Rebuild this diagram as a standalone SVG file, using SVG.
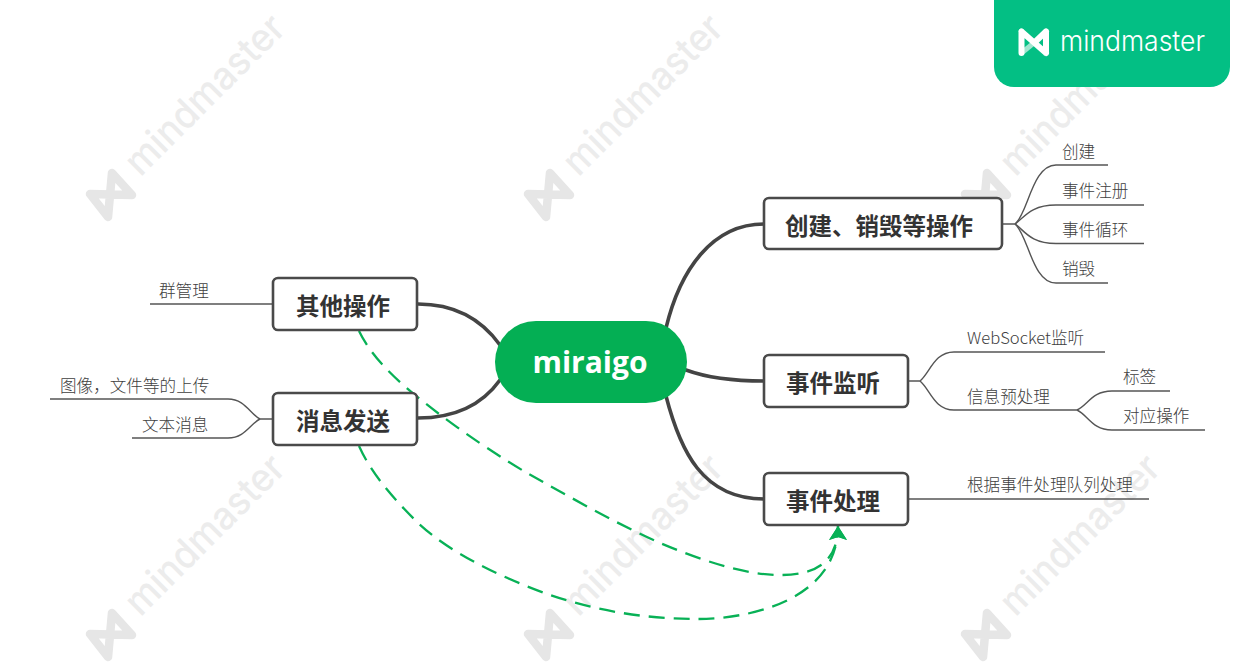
<svg xmlns="http://www.w3.org/2000/svg" width="1255" height="668" viewBox="0 0 1255 668">
<style>
.box{fill:#fff;stroke:#4a4a4a;stroke-width:2.6}
.t{font-family:"Noto Sans CJK SC","Liberation Sans",sans-serif;font-weight:700;font-size:23.5px;fill:#333;text-anchor:middle}
.s{font-family:"Noto Sans CJK SC","Liberation Sans",sans-serif;font-size:16.6px;font-weight:300;fill:#404040}
.main{fill:none;stroke:#444;stroke-width:3.6;stroke-linecap:round}
.thin{fill:none;stroke:#555;stroke-width:1.4}
.rel{fill:none;stroke:#08b156;stroke-width:2.3;stroke-dasharray:16 9}
.wm{font-family:"Inter","Open Sans",sans-serif;font-size:39px;font-weight:500;fill:#ececec}
</style>
<defs>
<marker id="ah" markerUnits="userSpaceOnUse" markerWidth="20" markerHeight="22" refX="15" refY="10" orient="auto">
<path d="M1,1 L15,10 L1,19 L4,10 Z" fill="#08b156"/>
</marker>
<g id="mark">
<path d="M90,194 L108,217 L112,173 L132,195 Z" fill="none" stroke="#e6e6e6" stroke-width="8.500" stroke-linejoin="round"/>
<text class="wm" transform="translate(140.500 177.500) rotate(-45)" textLength="208" lengthAdjust="spacingAndGlyphs">mindmaster</text>
</g>
</defs>
<rect width="1255" height="668" fill="#fff"/>
<g id="watermarks">
<use href="#mark"/>
<use href="#mark" x="438"/>
<use href="#mark" x="875"/>
<use href="#mark" y="440"/>
<use href="#mark" x="438" y="440"/>
<use href="#mark" x="875" y="440"/>
</g>
<g id="brand">
<path d="M994,0 H1230 V67 A20,20 0 0 1 1210,87 H1014 A20,20 0 0 1 994,67 Z" fill="#03bf84"/>
<path d="M1021.500,53 L1035,42" fill="none" stroke="#9fe6cf" stroke-width="5"/>
<path d="M1021.500,31.500 V53 M1046,31.500 V53 M1021.500,31.500 L1046,53 M1046,31.500 L1035,42" fill="none" stroke="#fff" stroke-width="6" stroke-linecap="round" stroke-linejoin="round"/>
<text x="1060" y="51" font-family="Inter,'Open Sans',sans-serif" font-size="28" font-weight="300" fill="#fff" textLength="145" lengthAdjust="spacingAndGlyphs">mindmaster</text>
</g>
<g id="connectors">
<path class="main" d="M666,328 C680,270 712,224 764,224"/>
<path class="main" d="M686,370 C705,377 730,381 764,381"/>
<path class="main" d="M666,396 C680,450 702,499 764,499"/>
<path class="main" d="M418,304 C455,304 482,320 500,345"/>
<path class="main" d="M418,418 C455,418 482,405 500,380"/>
<path class="thin" d="M1002,224 H1015 C1028,214 1032,165 1056,165 H1108"/>
<path class="thin" d="M1015,224 C1024,218 1030,205 1056,205 H1144"/>
<path class="thin" d="M1015,224 C1024,230 1030,243.500 1056,243.500 H1144"/>
<path class="thin" d="M1015,224 C1028,234 1032,283 1056,283 H1108"/>
<path class="thin" d="M908,381 H920 C930,373 934,352 954,352 H1105"/>
<path class="thin" d="M920,381 C930,389 934,410 954,410 H1077 C1088,405 1092,391 1112,391 H1170"/>
<path class="thin" d="M1077,410 C1088,415 1092,430 1112,430 H1205"/>
<path class="thin" d="M908,499 H1149"/>
<path class="thin" d="M273,304 H150"/>
<path class="thin" d="M273,419 H260 C250,414 245,399 228,399 H50"/>
<path class="thin" d="M260,419 C250,424 245,438 228,438 H132"/>
<path class="rel" d="M359,331 C372,358 398,382 425,403 C460,431 500,457 527,473 C570,497 615,523 660,543 C700,560 745,575 780,575 C812,575 838,565 838,526" marker-end="url(#ah)"/>
<path class="rel" d="M359,446 C372,475 395,500 418,523 C450,553 500,577 550,595 C600,612 650,619 697,619 C750,619 838,600 838,526" marker-end="url(#ah)"/>
</g>
<g id="root">
<rect x="495" y="321" width="192" height="82" rx="41" fill="#04af54"/>
<text x="590" y="373" font-family="'Open Sans','Noto Sans',sans-serif" font-weight="700" font-size="30" fill="#fff" text-anchor="middle">miraigo</text>
</g>
<g id="n1"><rect class="box" x="764" y="198" width="238" height="51" rx="5"/><text class="t" x="879" y="235">创建、销毁等操作</text></g>
<g id="n2"><rect class="box" x="764" y="355" width="144" height="52" rx="5"/><text class="t" x="833" y="392">事件监听</text></g>
<g id="n3"><rect class="box" x="764" y="473" width="144" height="52" rx="5"/><text class="t" x="833" y="510">事件处理</text></g>
<g id="n4"><rect class="box" x="273" y="278" width="144" height="52" rx="5"/><text class="t" x="343" y="315">其他操作</text></g>
<g id="n5"><rect class="box" x="273" y="393" width="144" height="52" rx="5"/><text class="t" x="343" y="430">消息发送</text></g>
<g id="n1a"><text class="s" x="1062" y="158">创建</text></g>
<g id="n1b"><text class="s" x="1062" y="197">事件注册</text></g>
<g id="n1c"><text class="s" x="1062" y="236">事件循环</text></g>
<g id="n1d"><text class="s" x="1062" y="275">销毁</text></g>
<g id="n2a"><text class="s" x="967" y="344">WebSocket监听</text></g>
<g id="n2b"><text class="s" x="967" y="403">信息预处理</text></g>
<g id="n2c"><text class="s" x="1123" y="383">标签</text></g>
<g id="n2d"><text class="s" x="1123" y="422">对应操作</text></g>
<g id="n3a"><text class="s" x="967" y="491">根据事件处理队列处理</text></g>
<g id="n4a"><text class="s" x="159" y="297">群管理</text></g>
<g id="n5a"><text class="s" x="60" y="392">图像，文件等的上传</text></g>
<g id="n5b"><text class="s" x="142" y="431">文本消息</text></g>
</svg>
